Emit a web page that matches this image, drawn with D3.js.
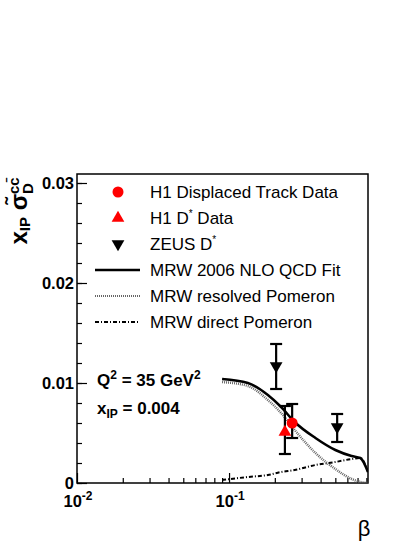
<!DOCTYPE html>
<html>
<head>
<meta charset="utf-8">
<script src="https://cdn.jsdelivr.net/npm/d3@7"></script>
<style>
  body { margin: 0; background: #fff; }
  text { font-family: "Liberation Sans", Arial, sans-serif; }
</style>
</head>
<body>
<div id="chart"></div>
<script>
// curve samples
var betaGrid = [0.09, 0.133, 0.18, 0.22, 0.27, 0.37, 0.5, 0.64, 0.73, 0.82];
var totalFit = [0.0104, 0.0100, 0.0088, 0.0076, 0.0061, 0.0045, 0.0033, 0.0027, 0.0025, 0.0011];
var resolvedPom = [0.0101, 0.0097, 0.0083, 0.0070, 0.0053, 0.0030, 0.0014, 0.0004, 0.0001, 0.0000];
var directPom = [0.0003, 0.0006, 0.0008, 0.0011, 0.0013, 0.0018, 0.0021, 0.0024, 0.0025, 0.0011];

// data points: beta, value, upper edge, lower edge
var h1Displaced = [{b: 0.26, v: 0.0060, hi: 0.0079, lo: 0.0045}];
var h1Dstar = [{b: 0.233, v: 0.0051, hi: 0.0077, lo: 0.0029}];
var zeusDstar = [{b: 0.204, v: 0.0117, hi: 0.0139, lo: 0.0094},
                 {b: 0.514, v: 0.0056, hi: 0.0069, lo: 0.0041}];

var yMajor = [0, 0.01, 0.02, 0.03];
var yMajorLabels = ["0", "0.01", "0.02", "0.03"];
var xMajor = [0.01, 0.1];
var xMajorExp = ["-2", "-1"];
var xMinor = [0.02, 0.03, 0.04, 0.05, 0.06, 0.07, 0.08, 0.09, 0.2, 0.3, 0.4, 0.5, 0.6, 0.7, 0.8];

var legendItems = [
  {label: "H1 Displaced Track Data", kind: "circle"},
  {label: "H1 D", sup: "*", post: " Data", kind: "tri"},
  {label: "ZEUS D", sup: "*", kind: "itri"},
  {label: "MRW 2006 NLO QCD Fit", kind: "solid"},
  {label: "MRW resolved Pomeron", kind: "dotted"},
  {label: "MRW direct Pomeron", kind: "dashdot"}
];

var W = 419, H = 542;
var pLeft = 77, pRight = 368, pTop = 174, pBottom = 483;

var svg = d3.select("#chart").append("svg")
    .attr("width", W).attr("height", H);

var x = d3.scaleLog().domain([0.01, 0.82]).range([pLeft, pRight]);
var y = d3.scaleLinear().domain([0, 0.0309]).range([pBottom, pTop]);

///////// axes and frame

svg.append("rect")
    .attr("x", pLeft).attr("y", pTop)
    .attr("width", pRight - pLeft).attr("height", pBottom - pTop)
    .attr("fill", "none").attr("stroke", "#000").attr("stroke-width", 1.5);

var yMinor = d3.range(0, 0.0301, 0.002);
svg.append("g")
    .attr("transform", "translate(" + pLeft + ",0)")
    .call(d3.axisRight(y).tickValues(yMinor).tickSize(5).tickFormat(""))
    .call(g => g.select(".domain").remove());
svg.append("g")
    .attr("transform", "translate(" + pLeft + ",0)")
    .call(d3.axisRight(y).tickValues(yMajor).tickSize(10).tickFormat(""))
    .call(g => g.select(".domain").remove());

svg.selectAll(".tick line").attr("stroke-width", 1.2);

svg.selectAll(".ylab")
    .data(yMajor)
  .enter().append("text")
    .attr("class", "ylab")
    .attr("x", pLeft - 3)
    .attr("y", d => y(d) + 6)
    .attr("text-anchor", "end")
    .attr("font-size", 16.5)
    .attr("font-weight", "bold")
    .text((d, i) => yMajorLabels[i]);

svg.append("g")
    .attr("transform", "translate(0," + pBottom + ")")
    .call(d3.axisTop(x).tickValues(xMinor).tickSize(5).tickFormat(""))
    .call(g => g.select(".domain").remove())
    .selectAll("line").attr("stroke-width", 1.2);
svg.append("g")
    .attr("transform", "translate(0," + pBottom + ")")
    .call(d3.axisTop(x).tickValues(xMajor).tickSize(10).tickFormat(""))
    .call(g => g.select(".domain").remove())
    .selectAll("line").attr("stroke-width", 1.2);

var xl = svg.selectAll(".xlab")
    .data(xMajor)
  .enter().append("text")
    .attr("class", "xlab")
    .attr("x", d => x(d) + 1)
    .attr("y", pBottom + 24)
    .attr("text-anchor", "middle")
    .attr("font-size", 16.5)
    .attr("font-weight", "bold");
xl.append("tspan").text("10");
xl.append("tspan").attr("dy", -7).attr("font-size", 12).text((d, i) => xMajorExp[i]);

svg.append("text")
    .attr("x", 364).attr("y", 536)
    .attr("text-anchor", "middle")
    .attr("font-size", 22)
    .attr("font-family", "DejaVu Serif, serif")
    .text("β");

// y title
var yt = svg.append("text")
    .attr("transform", "translate(27,211) rotate(-90)")
    .attr("text-anchor", "middle")
    .attr("font-size", 24)
    .attr("font-weight", "bold");
yt.append("tspan").text("x");
yt.append("tspan").attr("dy", 3).attr("font-size", 15).text("IP");
yt.append("tspan").attr("dy", -3).text(" σ\u0303");
yt.append("tspan").attr("dy", 6).attr("font-size", 15).text("D");
yt.append("tspan").attr("dx", -11).attr("dy", -14).attr("font-size", 15).text("cc\u0304");

///////// curves

svg.append("defs").append("clipPath").attr("id", "clip")
  .append("rect").attr("x", pLeft).attr("y", pTop)
    .attr("width", pRight - pLeft).attr("height", pBottom - pTop);

function curve(vals) {
  return d3.line()
    .x((d, i) => x(betaGrid[i]))
    .y(d => y(d))
    .curve(d3.curveMonotoneX)(vals);
}

var plot = svg.append("g").attr("clip-path", "url(#clip)");

plot.append("path").attr("d", curve(directPom))
    .attr("fill", "none").attr("stroke", "#000").attr("stroke-width", 2)
    .attr("stroke-dasharray", "4,2,1,2");
plot.append("path").attr("d", curve(resolvedPom))
    .attr("fill", "none").attr("stroke", "#666").attr("stroke-width", 2.5)
    .attr("stroke-dasharray", "1,1");
plot.append("path").attr("d", curve(totalFit))
    .attr("fill", "none").attr("stroke", "#000").attr("stroke-width", 2.5);

///////// data points with error bars

function errBars(data) {
  var g = plot.append("g").attr("stroke", "#000").attr("stroke-width", 2.2);
  data.forEach(function (d) {
    var cx = x(d.b);
    g.append("line").attr("x1", cx).attr("x2", cx).attr("y1", y(d.hi)).attr("y2", y(d.lo));
    g.append("line").attr("x1", cx - 6).attr("x2", cx + 6).attr("y1", y(d.hi)).attr("y2", y(d.hi));
    g.append("line").attr("x1", cx - 6).attr("x2", cx + 6).attr("y1", y(d.lo)).attr("y2", y(d.lo));
  });
}
errBars(h1Dstar);
errBars(h1Displaced);
errBars(zeusDstar);

var triUp = d3.symbol().type(d3.symbolTriangle).size(70);
plot.selectAll(".h1d")
    .data(h1Dstar)
  .enter().append("path")
    .attr("d", triUp)
    .attr("transform", d => "translate(" + x(d.b) + "," + y(d.v) + ")")
    .attr("fill", "#f00");

plot.selectAll(".zeus")
    .data(zeusDstar)
  .enter().append("path")
    .attr("d", triUp)
    .attr("transform", d => "translate(" + x(d.b) + "," + y(d.v) + ") rotate(180)")
    .attr("fill", "#000");

plot.selectAll(".h1c")
    .data(h1Displaced)
  .enter().append("circle")
    .attr("cx", d => x(d.b)).attr("cy", d => y(d.v))
    .attr("r", 5.5)
    .attr("fill", "#f00");

///////// annotation

var ann = svg.append("g").attr("font-size", 17).attr("font-weight", "bold");
var a1 = ann.append("text").attr("x", 97).attr("y", 386);
a1.append("tspan").text("Q");
a1.append("tspan").attr("dy", -7).attr("font-size", 12).text("2");
a1.append("tspan").attr("dy", 7).text(" = 35 GeV");
a1.append("tspan").attr("dy", -7).attr("font-size", 12).text("2");
var a2 = ann.append("text").attr("x", 97).attr("y", 414);
a2.append("tspan").text("x");
a2.append("tspan").attr("dy", 4).attr("font-size", 12).text("IP");
a2.append("tspan").attr("dy", -4).text(" = 0.004");

///////// legend

var legend = svg.selectAll(".legend")
    .data(legendItems)
  .enter().append("g")
    .attr("class", "legend")
    .attr("transform", (d, i) => "translate(0," + (192 + i * 26) + ")");

legend.each(function (d) {
  var g = d3.select(this);
  if (d.kind === "circle") {
    g.append("circle").attr("cx", 118).attr("cy", 0).attr("r", 5.5).attr("fill", "#f00");
  } else if (d.kind === "tri") {
    g.append("path").attr("d", triUp).attr("transform", "translate(118,0)").attr("fill", "#f00");
  } else if (d.kind === "itri") {
    g.append("path").attr("d", triUp).attr("transform", "translate(118,0) rotate(180)").attr("fill", "#000");
  } else {
    var ln = g.append("line").attr("x1", 95).attr("x2", 140).attr("y1", 0).attr("y2", 0);
    if (d.kind === "solid") ln.attr("stroke", "#000").attr("stroke-width", 2.5);
    if (d.kind === "dotted") ln.attr("stroke", "#666").attr("stroke-width", 2).attr("stroke-dasharray", "1,1");
    if (d.kind === "dashdot") ln.attr("stroke", "#000").attr("stroke-width", 2).attr("stroke-dasharray", "4,2,1,2");
  }
  var t = g.append("text").attr("x", 150).attr("y", 6).attr("font-size", 17);
  t.append("tspan").text(d.label);
  if (d.sup) t.append("tspan").attr("dy", -7).attr("font-size", 10).text(d.sup);
  if (d.post) t.append("tspan").attr("dy", 7).text(d.post);
});
</script>
</body>
</html>
